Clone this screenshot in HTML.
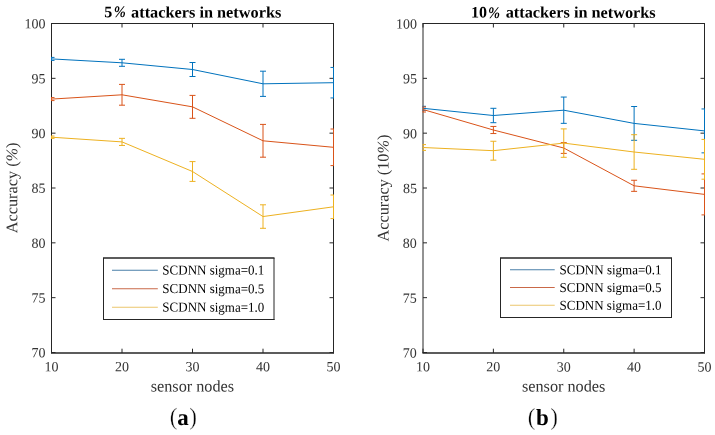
<!DOCTYPE html>
<html><head><meta charset="utf-8"><style>
html,body{margin:0;padding:0;background:#fff;}
body{width:715px;height:435px;overflow:hidden;}
svg{display:block;will-change:transform;}
text{font-family:"Liberation Serif",serif;text-rendering:geometricPrecision;}
.tk{font-size:14px;fill:#333;}
.lg{font-size:13.5px;fill:#000;}
.ti{font-size:16px;font-weight:bold;fill:#000;}
.lb{font-size:16.25px;fill:#333;}
.cp{font-size:23px;fill:#000;}
</style></head><body>
<svg width="715" height="435" viewBox="0 0 715 435">
<rect width="715" height="435" fill="#fff"/>
<path d="M51.0 23.5H334.0M51.5 23.5V353.2M333.5 23.5V353.2" stroke="#262626" stroke-width="1" fill="none"/>
<path d="M51.0 353.0H334.0" stroke="#262626" stroke-width="1.3" fill="none"/>
<path d="M51.5 352.50h4M333.5 352.50h-4M51.5 297.67h4M333.5 297.67h-4M51.5 242.83h4M333.5 242.83h-4M51.5 188.00h4M333.5 188.00h-4M51.5 133.17h4M333.5 133.17h-4M51.5 78.33h4M333.5 78.33h-4M51.5 23.50h4M333.5 23.50h-4M51.50 353.0v-4.3M51.50 23.5v4M122.00 353.0v-4.3M122.00 23.5v4M192.50 353.0v-4.3M192.50 23.5v4M263.00 353.0v-4.3M263.00 23.5v4M333.50 353.0v-4.3M333.50 23.5v4" stroke="#262626" stroke-width="1" fill="none"/>
<clipPath id="c51"><rect x="51.0" y="23.0" width="283.0" height="330.0"/></clipPath>
<g clip-path="url(#c51)">
<path d="M51.50 58.90 L122.00 62.80 L192.50 69.50 L263.00 83.80 L333.50 82.70" stroke="#0072BD" stroke-width="1" fill="none"/>
<path d="M51.50 57.40V60.40M48.50 57.40h6M48.50 60.40h6M122.00 59.30V66.30M119.00 59.30h6M119.00 66.30h6M192.50 62.50V76.50M189.50 62.50h6M189.50 76.50h6M263.00 71.20V96.40M260.00 71.20h6M260.00 96.40h6M333.50 67.45V97.95M330.50 67.45h6M330.50 97.95h6" stroke="#0072BD" stroke-width="1" fill="none"/>
<path d="M51.50 99.10 L122.00 94.80 L192.50 106.85 L263.00 140.80 L333.50 147.30" stroke="#D95319" stroke-width="1" fill="none"/>
<path d="M51.50 97.60V100.60M48.50 97.60h6M48.50 100.60h6M122.00 84.40V105.20M119.00 84.40h6M119.00 105.20h6M192.50 95.40V118.30M189.50 95.40h6M189.50 118.30h6M263.00 124.40V157.20M260.00 124.40h6M260.00 157.20h6M333.50 129.00V165.60M330.50 129.00h6M330.50 165.60h6" stroke="#D95319" stroke-width="1" fill="none"/>
<path d="M51.50 137.20 L122.00 141.90 L192.50 171.50 L263.00 216.55 L333.50 206.80" stroke="#EDB120" stroke-width="1" fill="none"/>
<path d="M51.50 136.00V138.40M48.50 136.00h6M48.50 138.40h6M122.00 138.35V145.45M119.00 138.35h6M119.00 145.45h6M192.50 161.60V181.40M189.50 161.60h6M189.50 181.40h6M263.00 204.80V228.30M260.00 204.80h6M260.00 228.30h6M333.50 195.00V218.60M330.50 195.00h6M330.50 218.60h6" stroke="#EDB120" stroke-width="1" fill="none"/>
</g>
<rect x="103.5" y="258.0" width="170.50" height="61.50" fill="#fff"/>
<path d="M103.5 258.0V320.0M274.0 258.0V320.0M103.0 319.5H274.5" stroke="#262626" stroke-width="1" fill="none"/>
<path d="M103.0 258.0H274.5" stroke="#262626" stroke-width="1.3" fill="none"/>
<path d="M112 270.2H157.8" stroke="#4a7fa8" stroke-width="1.1"/>
<path d="M112 288.8H157.8" stroke="#c96848" stroke-width="1.1"/>
<path d="M112 307.3H157.8" stroke="#ebc66c" stroke-width="1.1"/>
<path d="M422.5 23.5H705.0M423.0 23.5V353.2M704.5 23.5V353.2" stroke="#262626" stroke-width="1" fill="none"/>
<path d="M422.5 353.0H705.0" stroke="#262626" stroke-width="1.3" fill="none"/>
<path d="M423.0 352.50h4M704.5 352.50h-4M423.0 297.67h4M704.5 297.67h-4M423.0 242.83h4M704.5 242.83h-4M423.0 188.00h4M704.5 188.00h-4M423.0 133.17h4M704.5 133.17h-4M423.0 78.33h4M704.5 78.33h-4M423.0 23.50h4M704.5 23.50h-4M423.00 353.0v-4.3M423.00 23.5v4M493.38 353.0v-4.3M493.38 23.5v4M563.75 353.0v-4.3M563.75 23.5v4M634.12 353.0v-4.3M634.12 23.5v4M704.50 353.0v-4.3M704.50 23.5v4" stroke="#262626" stroke-width="1" fill="none"/>
<clipPath id="c423"><rect x="422.5" y="23.0" width="282.5" height="330.0"/></clipPath>
<g clip-path="url(#c423)">
<path d="M423.00 108.30 L493.38 115.50 L563.75 110.20 L634.12 123.40 L704.50 130.90" stroke="#0072BD" stroke-width="1" fill="none"/>
<path d="M423.00 106.30V110.30M420.00 106.30h6M420.00 110.30h6M493.38 108.30V122.70M490.38 108.30h6M490.38 122.70h6M563.75 97.05V123.35M560.75 97.05h6M560.75 123.35h6M634.12 106.50V140.30M631.12 106.50h6M631.12 140.30h6M704.50 108.95V152.85M701.50 108.95h6M701.50 152.85h6" stroke="#0072BD" stroke-width="1" fill="none"/>
<path d="M423.00 109.50 L493.38 130.00 L563.75 148.00 L634.12 185.80 L704.50 194.40" stroke="#D95319" stroke-width="1" fill="none"/>
<path d="M423.00 107.00V112.00M420.00 107.00h6M420.00 112.00h6M493.38 126.45V133.55M490.38 126.45h6M490.38 133.55h6M563.75 142.60V153.40M560.75 142.60h6M560.75 153.40h6M634.12 180.25V191.35M631.12 180.25h6M631.12 191.35h6M704.50 173.90V214.90M701.50 173.90h6M701.50 214.90h6" stroke="#D95319" stroke-width="1" fill="none"/>
<path d="M423.00 147.50 L493.38 150.70 L563.75 143.10 L634.12 152.00 L704.50 159.30" stroke="#EDB120" stroke-width="1" fill="none"/>
<path d="M423.00 144.60V150.40M420.00 144.60h6M420.00 150.40h6M493.38 141.25V160.15M490.38 141.25h6M490.38 160.15h6M563.75 128.90V157.30M560.75 128.90h6M560.75 157.30h6M634.12 134.70V169.30M631.12 134.70h6M631.12 169.30h6M704.50 139.40V179.20M701.50 139.40h6M701.50 179.20h6" stroke="#EDB120" stroke-width="1" fill="none"/>
</g>
<rect x="500.5" y="258.0" width="171.00" height="59.50" fill="#fff"/>
<path d="M500.5 258.0V318.0M671.5 258.0V318.0M500.0 317.5H672.0" stroke="#262626" stroke-width="1" fill="none"/>
<path d="M500.0 258.0H672.0" stroke="#262626" stroke-width="1.3" fill="none"/>
<path d="M510 269.7H554.7" stroke="#4a7fa8" stroke-width="1.1"/>
<path d="M510 287.5H554.7" stroke="#c96848" stroke-width="1.1"/>
<path d="M510 305.3H554.7" stroke="#ebc66c" stroke-width="1.1"/>
<g transform="rotate(0.03 357.5 217.5)">
<text x="45.5" y="357.50" text-anchor="end" class="tk">70</text>
<text x="45.5" y="302.67" text-anchor="end" class="tk">75</text>
<text x="45.5" y="247.83" text-anchor="end" class="tk">80</text>
<text x="45.5" y="193.00" text-anchor="end" class="tk">85</text>
<text x="45.5" y="138.17" text-anchor="end" class="tk">90</text>
<text x="45.5" y="83.33" text-anchor="end" class="tk">95</text>
<text x="45.5" y="28.50" text-anchor="end" class="tk">100</text>
<text x="51.50" y="371.3" text-anchor="middle" class="tk">10</text>
<text x="122.00" y="371.3" text-anchor="middle" class="tk">20</text>
<text x="192.50" y="371.3" text-anchor="middle" class="tk">30</text>
<text x="263.00" y="371.3" text-anchor="middle" class="tk">40</text>
<text x="333.50" y="371.3" text-anchor="middle" class="tk">50</text>
<text x="0" y="0" class="lg" transform="translate(162.4 274.60) scale(0.963 1)">SCDNN sigma=0.1</text>
<text x="0" y="0" class="lg" transform="translate(162.4 293.20) scale(0.963 1)">SCDNN sigma=0.5</text>
<text x="0" y="0" class="lg" transform="translate(162.4 311.70) scale(0.963 1)">SCDNN sigma=1.0</text>
<text x="104.2" y="17.5" class="ti">5</text>
<text x="113.6" y="17.5" class="ti" font-style="italic" font-weight="bold" transform="translate(113.6 0) scale(0.9 1) translate(-113.6 0)">%</text>
<text x="131" y="17.5" class="ti" textLength="150.2" lengthAdjust="spacingAndGlyphs">attackers in networks</text>
<text x="192.50" y="391.5" text-anchor="middle" class="lb">sensor nodes</text>
<text transform="translate(17.2 188.0) rotate(-90)" text-anchor="middle" class="lb">Accuracy (<tspan font-style="italic">%</tspan>)</text>
<text x="169.8" y="425" class="cp" stroke="#fff" stroke-width="0.3" transform="translate(0 430.6) scale(1 1.055) translate(0 -430.6)">(</text>
<text x="183.15" y="425" class="cp" text-anchor="middle" font-weight="bold">a</text>
<text x="197.0" y="425" class="cp" stroke="#fff" stroke-width="0.3" text-anchor="end" transform="translate(0 430.6) scale(1 1.055) translate(0 -430.6)">)</text>
<text x="416.9" y="357.50" text-anchor="end" class="tk">70</text>
<text x="416.9" y="302.67" text-anchor="end" class="tk">75</text>
<text x="416.9" y="247.83" text-anchor="end" class="tk">80</text>
<text x="416.9" y="193.00" text-anchor="end" class="tk">85</text>
<text x="416.9" y="138.17" text-anchor="end" class="tk">90</text>
<text x="416.9" y="83.33" text-anchor="end" class="tk">95</text>
<text x="416.9" y="28.50" text-anchor="end" class="tk">100</text>
<text x="423.00" y="371.3" text-anchor="middle" class="tk">10</text>
<text x="493.38" y="371.3" text-anchor="middle" class="tk">20</text>
<text x="563.75" y="371.3" text-anchor="middle" class="tk">30</text>
<text x="634.12" y="371.3" text-anchor="middle" class="tk">40</text>
<text x="704.50" y="371.3" text-anchor="middle" class="tk">50</text>
<text x="0" y="0" class="lg" transform="translate(559.6 274.10) scale(0.963 1)">SCDNN sigma=0.1</text>
<text x="0" y="0" class="lg" transform="translate(559.6 291.90) scale(0.963 1)">SCDNN sigma=0.5</text>
<text x="0" y="0" class="lg" transform="translate(559.6 309.70) scale(0.963 1)">SCDNN sigma=1.0</text>
<text x="470.8" y="17.5" class="ti">10</text>
<text x="487.8" y="17.5" class="ti" font-style="italic" font-weight="bold" transform="translate(487.8 0) scale(0.9 1) translate(-487.8 0)">%</text>
<text x="505.6" y="17.5" class="ti" textLength="150" lengthAdjust="spacingAndGlyphs">attackers in networks</text>
<text x="563.75" y="391.5" text-anchor="middle" class="lb">sensor nodes</text>
<text transform="translate(388.4 188.0) rotate(-90)" text-anchor="middle" class="lb">Accuracy (10<tspan font-style="italic">%</tspan>)</text>
<text x="527.8" y="425" class="cp" stroke="#fff" stroke-width="0.3" transform="translate(0 430.6) scale(1 1.055) translate(0 -430.6)">(</text>
<text x="542.55" y="425" class="cp" text-anchor="middle" font-weight="bold">b</text>
<text x="558.1" y="425" class="cp" stroke="#fff" stroke-width="0.3" text-anchor="end" transform="translate(0 430.6) scale(1 1.055) translate(0 -430.6)">)</text>
</g>
</svg>
</body></html>
